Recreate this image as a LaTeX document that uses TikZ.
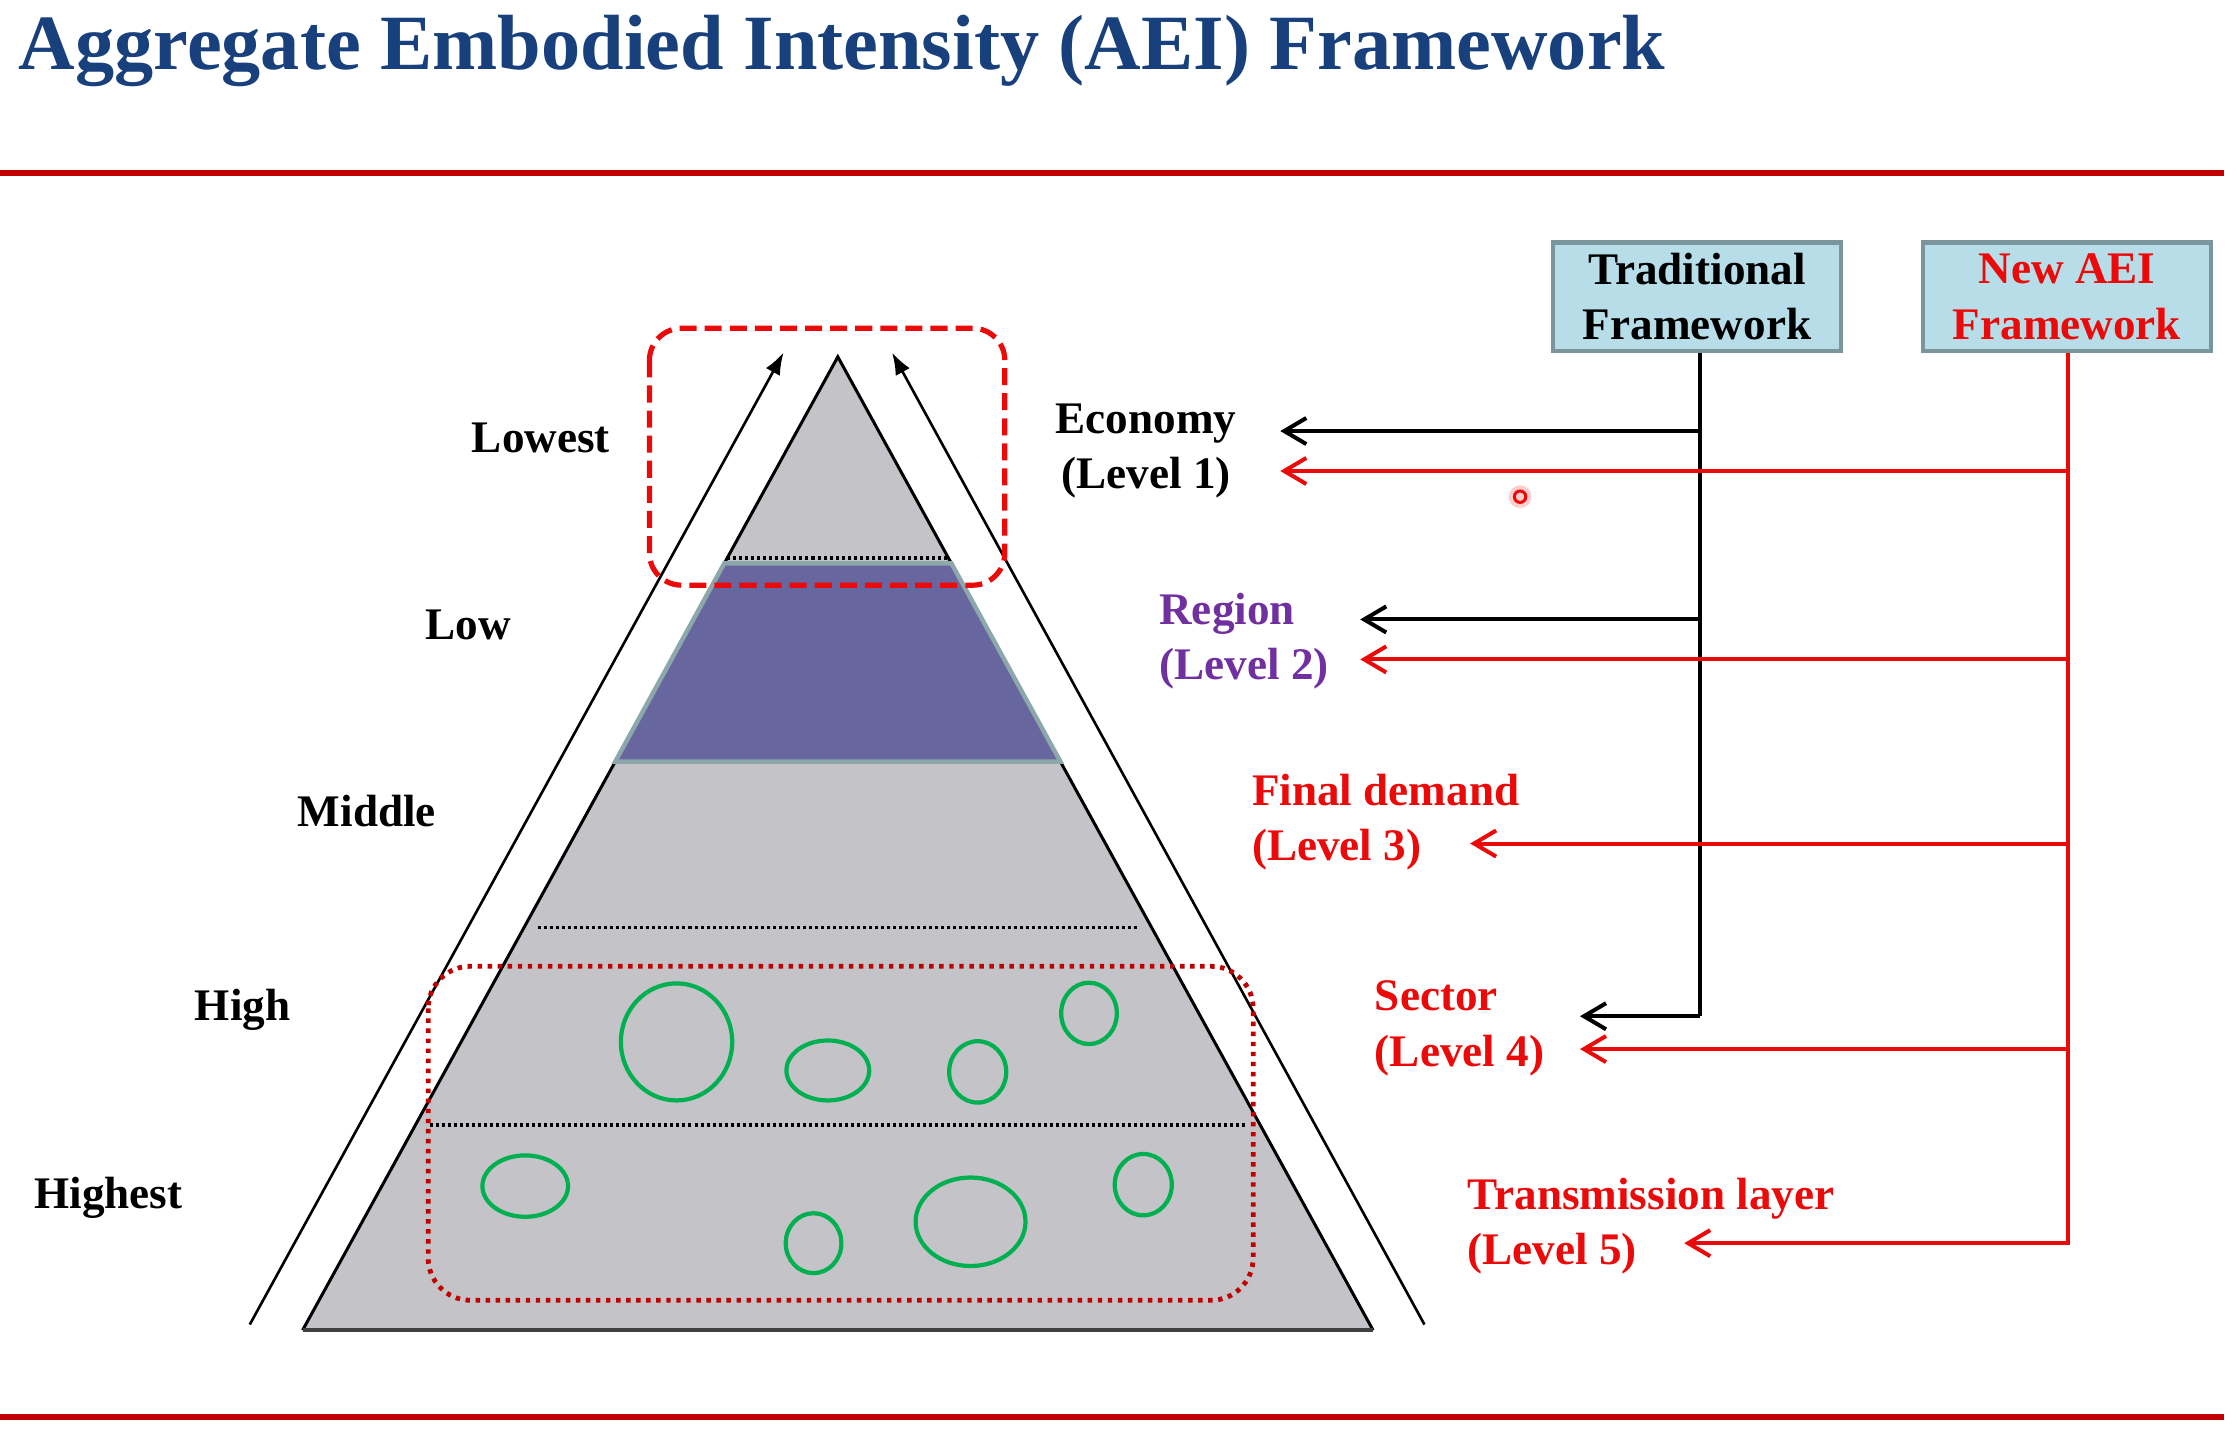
\documentclass[tikz,border=0pt]{standalone}
\usepackage{fontspec}
\setmainfont{Liberation Serif}
\usetikzlibrary{
	arrows.meta,
	positioning,
	calc
}
\definecolor{titleblue}{RGB}{24,64,124}
\definecolor{rulered}{RGB}{192,0,0}
\definecolor{layergray}{RGB}{196,196,200}
\definecolor{bandpurple}{RGB}{104,102,158}
\definecolor{bandedge}{RGB}{140,168,170}
\definecolor{boxfill}{RGB}{183,222,232}
\definecolor{boxedge}{RGB}{122,150,156}
\definecolor{regionpurple}{RGB}{112,48,160}
\definecolor{aeired}{RGB}{235,10,10}
\definecolor{bubblegreen}{RGB}{0,176,80}
\newcommand{\lblfont}{\fontsize{22.5}{27.5}\selectfont\bfseries}
\tikzset{
	>={Straight Barb[length=11pt,width=13pt]},
	rule/.style={rulered, line width=3pt},
	level/.style={font=\lblfont, inner sep=0pt, anchor=base},
	levelnote/.style={font=\lblfont, inner sep=0pt, align=left, anchor=base west},
	framebox/.style={draw=boxedge, line width=2.2pt, fill=boxfill, font=\lblfont, align=center, minimum width=5.05cm, minimum height=1.9cm, inner sep=0pt},
	tradlink/.style={black, line width=2pt},
	aeilink/.style={aeired, line width=2pt},
	sideline/.style={line width=1.3pt, -{Latex[length=11pt,width=8pt]}},
	sepline/.style={line width=1.7pt, dash pattern=on 1.5pt off 1.5pt},
	bubble/.style={bubblegreen, line width=2.1pt}
}

\begin{document}
\begin{tikzpicture}[x=0.025cm, y=-0.025cm]
	\useasboundingbox (0,0) rectangle (1568,1010);

	\node[anchor=base west, inner sep=0pt, text=titleblue, font=\fontsize{39}{45}\selectfont\bfseries] (title) at (13,49) {Aggregate Embodied Intensity (AEI) Framework};
	\coordinate (ruletopl) at (0,121);
	\coordinate (ruletopr) at (1558,121);
	\coordinate (rulebotl) at (0,993);
	\coordinate (rulebotr) at (1558,993);
	\draw[rule] (ruletopl) -- (ruletopr);
	\draw[rule] (rulebotl) -- (rulebotr);

	\coordinate (apex) at (587,250);
	\coordinate (basel) at (212,932);
	\coordinate (baser) at (962,932);
	\fill[layergray] (apex) -- (baser) -- (basel) -- cycle;
	\draw[line width=1.5pt] (basel) -- (apex) -- (baser);
	\draw[line width=2.2pt, black!75] (basel) -- (baser);
	\draw[bandedge, line width=2.2pt, fill=bandpurple] ($(apex)!0.2122!(basel)$) -- ($(apex)!0.2122!(baser)$) -- ($(apex)!0.4158!(baser)$) -- ($(apex)!0.4158!(basel)$) -- cycle;
	\draw[sepline] ($(apex)!0.2067!(basel)$) -- ($(apex)!0.2067!(baser)$);
	\foreach \f in {0.5865,0.789} {
		\draw[sepline, shorten <=7pt, shorten >=7pt] ($(apex)!\f!(basel)$) -- ($(apex)!\f!(baser)$);
	}

	\coordinate (leftfoot) at (175,928);
	\coordinate (lefttip) at (549,247);
	\coordinate (rightfoot) at (998,928);
	\coordinate (righttip) at (625,247);
	\draw[sideline] (leftfoot) -- (lefttip);
	\draw[sideline] (rightfoot) -- (righttip);

	\draw[aeired, line width=2.6pt, dash pattern=on 8.5pt off 4pt, rounded corners=16pt] (455,230) rectangle (704,410);
	\draw[rulered, line width=2.4pt, dash pattern=on 2.2pt off 2.8pt, rounded corners=21pt] (300,677) rectangle (878,911);

	\foreach \cx/\cy/\rx/\ry in {474/730/39/41, 580/750/29/21, 685/751/20/21.5, 763/710/19.5/21.5, 368/831/30/21.5, 570/871/19.5/21, 680/856/38.5/31, 801/830/20/21.5} {
		\draw[bubble] (\cx,\cy) ellipse[x radius=\rx, y radius=\ry];
	}

	\node[level] (lowest) at (379,317) {Lowest};
	\node[level] (low) at (328,448) {Low};
	\node[level] (middle) at (257,579) {Middle};
	\node[level] (high) at (170,715) {High};
	\node[level] (highest) at (76,847) {Highest};

	\node[levelnote, align=center, anchor=base] (economy) at (803,342.5) {Economy\\(Level 1)};
	\node[levelnote, text=regionpurple] (region) at (812,476) {Region\\(Level 2)};
	\node[levelnote, text=aeired] (finaldemand) at (877,603) {Final demand\\(Level 3)};
	\node[levelnote, text=aeired] (sector) at (963,747) {Sector\\(Level 4)};
	\node[levelnote, text=aeired] (transmission) at (1028,886) {Transmission layer\\(Level 5)};

	\node[framebox] (trad) at (1189,208) {Traditional\\Framework};
	\node[framebox, text=aeired, right=1.35cm of trad] (newaei) {New AEI\\Framework};

	\foreach \y/\x [count=\i] in {302/897, 434/953, 712/1107} {
		\coordinate (tradj\i) at (1191,\y);
		\coordinate (tradt\i) at (\x,\y);
	}
	\draw[tradlink] (trad.south -| tradj1) -- (tradj3);
	\foreach \i in {1,2,3} {
		\draw[tradlink, ->] (tradj\i) -- (tradt\i);
	}

	\foreach \y/\x [count=\i] in {330/897, 462/953, 591/1030, 735/1107, 871/1180} {
		\coordinate (aeij\i) at (1449,\y);
		\coordinate (aeit\i) at (\x,\y);
	}
	\draw[aeilink] (newaei.south -| aeij1) -- ([yshift=-1pt]aeij5);
	\foreach \i in {1,...,5} {
		\draw[aeilink, ->] (aeij\i) -- (aeit\i);
	}

	\fill[aeired!20] (1065,348) circle[radius=8];
	\draw[aeired, line width=1.5pt] (1065,348) circle[radius=4];
\end{tikzpicture}
\end{document}
